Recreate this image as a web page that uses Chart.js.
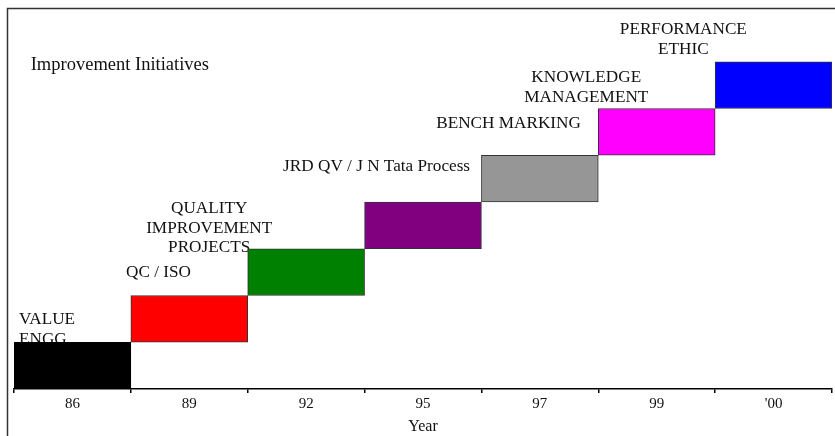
<!DOCTYPE html>
<html>
<head>
<meta charset="utf-8">
<script src="https://cdn.jsdelivr.net/npm/chart.js@4/dist/chart.umd.min.js"></script>
<style>
  html, body { margin: 0; padding: 0; background: #fff; overflow: hidden; }
  #wrap { width: 835px; height: 436px; position: relative; }
</style>
</head>
<body>
<div id="wrap"><canvas id="c" width="835" height="436"></canvas></div>
<script>
// Years on the horizontal axis
const years = ['86', '89', '92', '95', '97', '99', "'00"];

// Each initiative is one step of the staircase: it starts where the previous one ends
const stepStart = [0, 1, 2, 3, 4, 5, 6];
const stepEnd = [1, 2, 3, 4, 5, 6, 7];

// Initiative names (one entry per line of text)
const initiativeNames = [
  ['VALUE', 'ENGG'],
  ['QC / ISO'],
  ['QUALITY', 'IMPROVEMENT', 'PROJECTS'],
  ['JRD QV / J N Tata Process'],
  ['BENCH MARKING'],
  ['KNOWLEDGE', 'MANAGEMENT'],
  ['PERFORMANCE', 'ETHIC']
];

const stepColors = ['#000000', '#ff0000', '#008000', '#800080', '#969696', '#ff00ff', '#0000ff'];

const chartHeading = 'Improvement Initiatives';
const axisTitle = 'Year';

// Where each name sits, in axis units (x: category index, y: step level)
const namePlacement = [
  { x: -0.457, y: 1.48, align: 'left' },
  { x: 0.459, y: 2.50, align: 'left' },
  { x: 1.17, y: 3.86, align: 'center' },
  { x: 1.803, y: 4.75, align: 'left' },
  { x: 3.113, y: 5.675, align: 'left' },
  { x: 4.397, y: 6.66, align: 'center' },
  { x: 5.228, y: 7.69, align: 'center' }
];
const headingPlacement = { x: -0.357, y: 6.93 };

const SERIF = '"Liberation Serif", "Times New Roman", serif';

// Outer frame of the figure
const framePlugin = {
  id: 'frame',
  beforeDraw(chart) {
    const ctx = chart.ctx;
    ctx.save();
    ctx.strokeStyle = '#333';
    ctx.lineWidth = 1.5;
    ctx.beginPath();
    ctx.moveTo(7.5, chart.height);
    ctx.lineTo(7.5, 8.5);
    ctx.lineTo(chart.width, 8.5);
    ctx.stroke();
    ctx.restore();
  }
};

// Initiative names are drawn under the bars so the bars cover their overhang
const namesPlugin = {
  id: 'names',
  beforeDatasetsDraw(chart) {
    const ctx = chart.ctx;
    const xs = chart.scales.x, ys = chart.scales.y;
    const unitX = xs.getPixelForValue(1) - xs.getPixelForValue(0);
    const px = u => xs.getPixelForValue(0) + unitX * u;
    const py = v => ys.getPixelForValue(v);
    const lineGap = 19.6;
    ctx.save();
    ctx.fillStyle = '#111';
    ctx.textBaseline = 'middle';
    ctx.font = '17.2px ' + SERIF;
    initiativeNames.forEach((lines, i) => {
      const p = namePlacement[i];
      ctx.textAlign = p.align;
      lines.forEach((t, k) => ctx.fillText(t, px(p.x), py(p.y) + k * lineGap));
    });
    ctx.font = '18.5px ' + SERIF;
    ctx.textAlign = 'left';
    ctx.fillText(chartHeading, px(headingPlacement.x), py(headingPlacement.y));
    ctx.restore();
  }
};

new Chart(document.getElementById('c'), {
  type: 'bar',
  data: {
    labels: years,
    datasets: [{
      data: stepStart.map((s, i) => [s, stepEnd[i]]),
      backgroundColor: stepColors,
      borderColor: stepColors.map(c => c === '#000000' ? '#000' : '#333'),
      borderWidth: 1,
      borderSkipped: false,
      categoryPercentage: 1,
      barPercentage: 1
    }]
  },
  options: {
    responsive: false,
    animation: false,
    devicePixelRatio: 1,
    layout: { padding: { left: 14, right: 3, top: 15, bottom: 0 } },
    plugins: { legend: { display: false }, tooltip: { enabled: false } },
    scales: {
      x: {
        type: 'category',
        offset: true,
        grid: { offset: true, drawOnChartArea: false, drawTicks: true, tickLength: 4, color: '#000', lineWidth: 1.5 },
        border: { display: true, color: '#000', width: 1.5 },
        ticks: { color: '#111', font: { family: SERIF, size: 15 }, padding: 2, maxRotation: 0 },
        title: { display: true, text: axisTitle, color: '#111', font: { family: SERIF, size: 16 }, padding: { top: 0, bottom: 0 } },
        afterFit(scale) { scale.height = 47; }
      },
      y: { display: false, min: 0, max: 8 }
    }
  },
  plugins: [framePlugin, namesPlugin]
});
</script>
</body>
</html>
